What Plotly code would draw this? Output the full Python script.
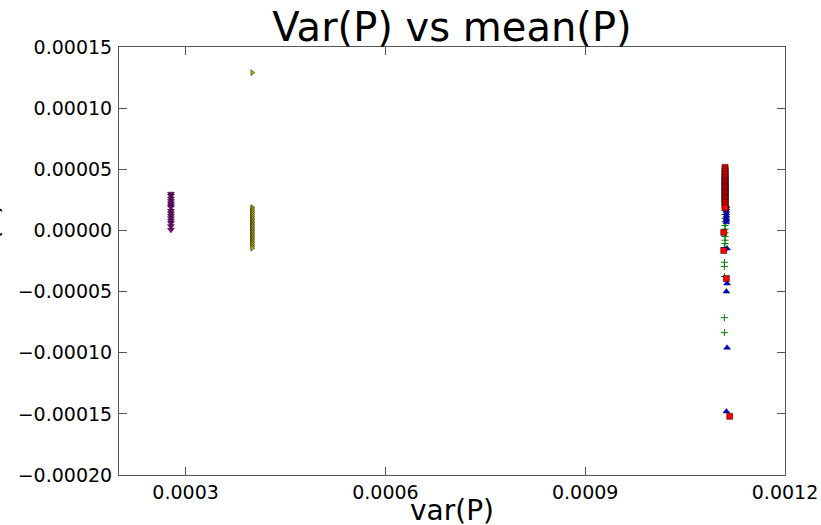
import plotly.graph_objects as go

# var(P) / mean(P) per group
purple_x = [0.000278] * 15
purple_y = [0.0000300, 0.0000285, 0.0000262, 0.0000240, 0.0000222, 0.0000205, 0.0000190,
            0.0000160, 0.0000140, 0.0000120, 0.0000100, 0.0000080, 0.0000060, 0.0000035, 0.0000005]

yellow_x = [0.000400] * 27
yellow_y = [0.000129, 0.0000189, 0.0000175, 0.0000160, 0.0000145, 0.0000130, 0.0000115, 0.0000100,
            0.0000088, 0.0000075, 0.0000062, 0.0000050, 0.0000038, 0.0000025, 0.0000012, 0.0000000,
            -0.0000012, -0.0000025, -0.0000038, -0.0000050, -0.0000062, -0.0000075, -0.0000088,
            -0.0000100, -0.0000115, -0.0000130, -0.0000145]

red_x = [0.001110] * 30 + [0.001108, 0.001108, 0.001112, 0.001117]
red_y = [0.0000516, 0.0000500, 0.0000485, 0.0000470, 0.0000458, 0.0000445, 0.0000432, 0.0000420,
         0.0000410, 0.0000400, 0.0000390, 0.0000380, 0.0000370, 0.0000360, 0.0000350, 0.0000340,
         0.0000330, 0.0000320, 0.0000310, 0.0000300, 0.0000290, 0.0000280, 0.0000270, 0.0000260,
         0.0000250, 0.0000240, 0.0000228, 0.0000215, 0.0000200, 0.0000185,
         -0.0000016, -0.0000164, -0.0000393, -0.000152]

blue_x = [0.001112] * 8 + [0.001113, 0.001113, 0.001112, 0.001113, 0.001112]
blue_y = [0.0000200, 0.0000180, 0.0000160, 0.0000140, 0.0000120, 0.0000100, 0.0000085, 0.0000066,
          -0.0000148, -0.0000434, -0.0000500, -0.0000959, -0.000148]

green_x = [0.001110] * 10 + [0.001109] * 7
green_y = [0.0000164, 0.0000130, 0.0000100, 0.0000070, 0.0000040, 0.0000010, -0.0000020,
           -0.0000050, -0.0000080, -0.0000107, -0.0000140, -0.0000160, -0.0000260, -0.0000295,
           -0.0000377, -0.0000713, -0.0000836]

series = [
    (purple_x, purple_y, "#800080", "triangle-down", 6),
    (yellow_x, yellow_y, "#bfbf00", "triangle-right", 5),
    (green_x, green_y, "#008000", "cross-thin", 5),
    (blue_x, blue_y, "#0000ff", "triangle-up", 6),
    (red_x, red_y, "#ff0000", "square", 6),
]

fig = go.Figure()
for xs, ys, color, symbol, size in series:
    if symbol == "cross-thin":
        marker = dict(symbol=symbol, size=size, line=dict(color=color, width=1))
    else:
        marker = dict(symbol=symbol, size=size, color=color, line=dict(color="black", width=0.5))
    fig.add_trace(go.Scatter(x=xs, y=ys, mode="markers", marker=marker, showlegend=False,
                             hoverinfo="skip"))

W, H = 821, 525
L, R, T, B = 119, 36, 47, 50
pw, ph = W - L - R, H - T - B
font = "DejaVu Sans"

axis_style = dict(
    showline=True, linecolor="#555", linewidth=1, mirror="ticks",
    ticks="inside", ticklen=8, tickcolor="#555", showgrid=False, zeroline=False,
    automargin=False,
    tickfont=dict(family=font, size=19, color="black"),
)

fig.update_layout(
    width=W, height=H,
    margin=dict(l=L, r=R, t=T, b=B),
    plot_bgcolor="white", paper_bgcolor="white",
    title=dict(text="Var(P) vs mean(P)", x=0.5, xref="paper", xanchor="center",
               y=1 - 27 / H, yref="container", yanchor="middle",
               font=dict(family=font, size=40, color="black")),
    xaxis=dict(range=[0.0002, 0.0012], tickvals=[0.0003, 0.0006, 0.0009, 0.0012],
               tickformat=".4f", **axis_style),
    yaxis=dict(range=[-0.0002, 0.00015], dtick=0.00005, tickformat=".5f",
               ticklabelstandoff=2, **axis_style),
    annotations=[
        dict(text="var(P)", xref="paper", yref="paper", x=0.5, y=-(511 - 475) / ph,
             xanchor="center", yanchor="middle", showarrow=False,
             font=dict(family=font, size=28, color="black")),
        # y label sits mostly outside the page, as in the original
        dict(text="mean(P)", xref="paper", yref="paper", x=(5 - L) / pw, y=(475 - 261) / ph,
             xanchor="right", yanchor="middle", textangle=-90, showarrow=False,
             font=dict(family=font, size=27, color="black")),
    ],
)

fig.write_html("out.html", config={"displayModeBar": False},
               post_script="document.body.style.margin='0';")
